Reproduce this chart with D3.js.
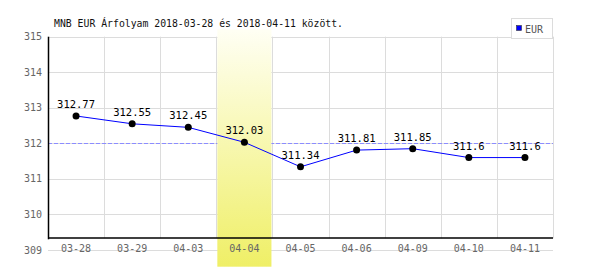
<!DOCTYPE html>
<html>
<head>
<meta charset="utf-8">
<script src="https://cdn.jsdelivr.net/npm/d3@7"></script>
<style>
  body { margin: 0; background: #fff; }
  text { font-family: "DejaVu Sans Mono", monospace; }
</style>
</head>
<body>
<svg width="600" height="270"></svg>
<script>
// chart data
var dates = ['03-28', '03-29', '04-03', '04-04', '04-05', '04-06', '04-09', '04-10', '04-11'];
var rates = [312.77, 312.55, 312.45, 312.03, 311.34, 311.81, 311.85, 311.6, 311.6];
var yTicks = [309, 310, 311, 312, 313, 314, 315];
var highlighted = '04-04';
var title = 'MNB EUR Árfolyam 2018-03-28 és 2018-04-11 között.';
var seriesName = 'EUR';

var svg = d3.select('svg');

var plotLeft = 48, plotRight = 553, plotTop = 36.7, plotBottom = 250, axisY = 238.3;

var x = d3.scaleBand().domain(dates).range([plotLeft, plotRight]);
var y = d3.scaleLinear().domain([309, 315]).range([plotBottom, plotTop]);

// gradient for the highlighted day
var grad = svg.append('defs').append('linearGradient')
    .attr('id', 'hl').attr('x1', 0).attr('y1', 0).attr('x2', 0).attr('y2', 1);
grad.append('stop').attr('offset', '0%').attr('stop-color', '#fffff4');
grad.append('stop').attr('offset', '100%').attr('stop-color', '#efef66');

// horizontal grid
svg.append('g').selectAll('line')
    .data(yTicks)
    .enter().append('line')
    .attr('x1', plotLeft).attr('x2', plotRight)
    .attr('y1', d => Math.round(y(d)) + 0.5).attr('y2', d => Math.round(y(d)) + 0.5)
    .attr('stroke', '#dcdcdc');

// vertical grid (band edges)
svg.append('g').selectAll('line')
    .data(dates)
    .enter().append('line')
    .attr('x1', d => Math.round(x(d) + x.bandwidth()) + 0.5)
    .attr('x2', d => Math.round(x(d) + x.bandwidth()) + 0.5)
    .attr('y1', plotTop).attr('y2', axisY)
    .attr('stroke', '#dcdcdc');

// average line
var avg = d3.mean(rates);
svg.append('line')
    .attr('x1', plotLeft).attr('x2', plotRight)
    .attr('y1', Math.round(y(avg)) + 0.5).attr('y2', Math.round(y(avg)) + 0.5)
    .attr('stroke', '#8c8cff')
    .attr('stroke-dasharray', '4,2');

// highlight band
svg.append('rect')
    .attr('x', x(highlighted) + 1)
    .attr('width', x.bandwidth() - 2)
    .attr('y', 29.3)
    .attr('height', 266.7 - 29.3)
    .attr('fill', 'url(#hl)');

// axes lines
svg.append('line')
    .attr('x1', plotLeft + 0.5).attr('x2', plotLeft + 0.5)
    .attr('y1', plotTop).attr('y2', axisY + 1)
    .attr('stroke', '#000').attr('stroke-width', 1.5);
svg.append('line')
    .attr('x1', plotLeft).attr('x2', plotRight)
    .attr('y1', Math.round(axisY)).attr('y2', Math.round(axisY))
    .attr('stroke', '#000').attr('stroke-width', 1.5);

// y labels
svg.append('g').selectAll('text')
    .data(yTicks)
    .enter().append('text')
    .attr('x', 42)
    .attr('y', d => y(d))
    .attr('dy', '0.35em')
    .attr('text-anchor', 'end')
    .attr('font-size', 10)
    .attr('fill', '#666')
    .text(d => d);

// x labels
svg.append('g').selectAll('text')
    .data(dates)
    .enter().append('text')
    .attr('x', d => x(d) + x.bandwidth() / 2)
    .attr('y', 251.5)
    .attr('text-anchor', 'middle')
    .attr('font-size', 10)
    .attr('fill', '#666')
    .text(d => d);

// data line
var line = d3.line()
    .x((d, i) => x(dates[i]) + x.bandwidth() / 2)
    .y(d => y(d));

svg.append('path')
    .datum(rates)
    .attr('d', line)
    .attr('fill', 'none')
    .attr('stroke', '#0000ff')
    .attr('stroke-width', 1);

// points
svg.append('g').selectAll('circle')
    .data(rates)
    .enter().append('circle')
    .attr('cx', (d, i) => x(dates[i]) + x.bandwidth() / 2)
    .attr('cy', d => y(d))
    .attr('r', 3.5)
    .attr('fill', '#000');

// value labels
svg.append('g').selectAll('text')
    .data(rates)
    .enter().append('text')
    .attr('x', (d, i) => x(dates[i]) + x.bandwidth() / 2)
    .attr('y', d => y(d) - 8)
    .attr('text-anchor', 'middle')
    .attr('font-size', 10.5)
    .attr('fill', '#000')
    .text(d => d);

// title
svg.append('text')
    .attr('x', 54)
    .attr('y', 27.3)
    .attr('font-size', 9.8)
    .attr('fill', '#111')
    .text(title);

// legend
var lg = svg.append('g');
lg.append('rect')
    .attr('x', 511.5).attr('y', 18.5)
    .attr('width', 41).attr('height', 20)
    .attr('fill', '#fff').attr('stroke', '#dcdcdc');
lg.append('rect')
    .attr('x', 516.5).attr('y', 25.5)
    .attr('width', 5).attr('height', 5)
    .attr('fill', '#0000ff').attr('stroke', '#333').attr('stroke-width', 0.6);
lg.append('text')
    .attr('x', 525)
    .attr('y', 32.5)
    .attr('font-size', 10)
    .attr('fill', '#555')
    .text(seriesName);
</script>
</body>
</html>
